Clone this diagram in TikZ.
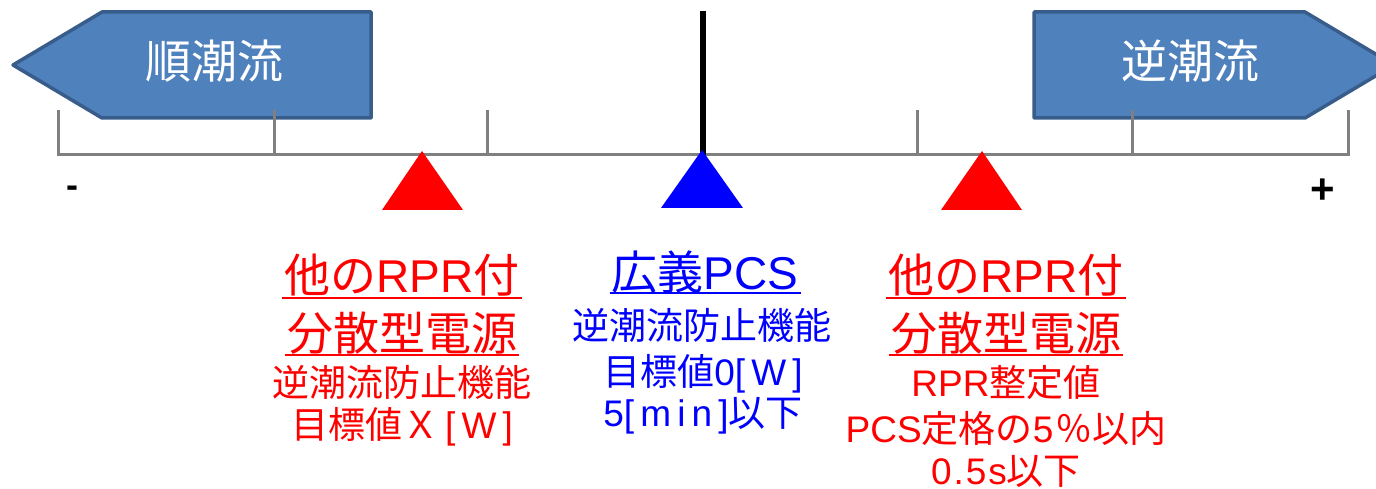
\documentclass[tikz,border=0pt]{standalone}
\usepackage{fontspec}
\setmainfont{Liberation Sans}
\newfontfamily\jp{Noto Sans CJK JP}
\definecolor{arrowfill}{HTML}{4F81BD}
\definecolor{arrowline}{HTML}{385D8A}
\definecolor{scalegray}{HTML}{808080}
\tikzset{
  arrowbox/.style={fill=arrowfill, draw=arrowline, line width=3.5pt, line join=round},
  arrowtext/.style={text=white, font=\jp\fontsize{46}{50}\selectfont, inner sep=0pt},
  scaleline/.style={draw=scalegray, line width=3pt},
  bigline/.style={anchor=base, inner xsep=2pt, inner ysep=0pt, font=\fontsize{46}{50}\selectfont},
  smallline/.style={anchor=base, inner sep=0pt, font=\fontsize{37}{40}\selectfont},
  uline/.style={line width=2.5pt}
}
\begin{document}
\begin{tikzpicture}[x=1pt,y=-1pt]
\useasboundingbox (0,0) rectangle (1376,489);
% flow arrows
\draw[arrowbox] (13,65) -- (102,12) -- (371,12) -- (371,118) -- (102,118) -- cycle;
\node[arrowtext] (jun) at (214,61) {順潮流};
\draw[arrowbox] (1394,65) -- (1305,12) -- (1034,12) -- (1034,118) -- (1305,118) -- cycle;
\node[arrowtext] (gyaku) at (1190,61) {逆潮流};
% scale
\draw[scaleline] (58,110) -- (58,155) -- (1348,155) -- (1348,110);
\foreach \x in {274,487,703,917,1132} \draw[scaleline] (\x,110) -- (\x,155);
\draw[line width=5.5pt] (703,11) -- (703,155);
% markers
\fill[red] (422,151) -- (463,210) -- (382,210) -- cycle;
\fill[blue] (702,150) -- (743,208) -- (661,208) -- cycle;
\fill[red] (982,151) -- (1022,210) -- (941,210) -- cycle;
\node[font=\bfseries\fontsize{36}{40}\selectfont, inner sep=0pt] (minus) at (72,192) {-};
\node[font=\bfseries\fontsize{42}{44}\selectfont, inner sep=0pt] (plus) at (1323,191) {+};
% left block
\begin{scope}[red]
\node[bigline] (l1) at (402,292) {{\jp 他の}RPR{\jp 付}};
\node[bigline] (l2) at (402,350) {\jp 分散型電源};
\node[smallline] (l3) at (402,396) {\jp 逆潮流防止機能};
\node[smallline] (l4) at (402,438) {{\jp 目標値Ｘ}\,[\,W\,]};
\draw[uline] ([yshift=-6pt]l1.base west) -- ([yshift=-6pt]l1.base east);
\draw[uline] ([yshift=-5pt]l2.base west) -- ([yshift=-5pt]l2.base east);
\end{scope}
% center block
\begin{scope}[blue]
\node[bigline] (c1) at (705,289) {{\jp 広義}PCS};
\node[smallline] (c2) at (702,339) {\jp 逆潮流防止機能};
\node[smallline] (c3) at (703,385) {{\jp 目標値}0[\,W\,]};
\node[smallline] (c4) at (703,426) {5[\,m\,i\,n\,]{\jp 以下}};
\draw[uline] ([yshift=-4pt]c1.base west) -- ([yshift=-4pt]c1.base east);
\end{scope}
% right block
\begin{scope}[red]
\node[bigline] (r1) at (1006,292) {{\jp 他の}RPR{\jp 付}};
\node[bigline] (r2) at (1006,350) {\jp 分散型電源};
\node[smallline] (r3) at (1006,396) {RPR{\jp 整定値}};
\node[smallline] (r4) at (1006,442) {PCS{\jp 定格の}5\kern2pt{\jp ％以内}};
\node[smallline] (r5) at (1006,484) {0\kern2pt.\kern2pt5\kern2pt s{\jp 以下}};
\draw[uline] ([yshift=-6pt]r1.base west) -- ([yshift=-6pt]r1.base east);
\draw[uline] ([yshift=-5pt]r2.base west) -- ([yshift=-5pt]r2.base east);
\end{scope}
\end{tikzpicture}
\end{document}
